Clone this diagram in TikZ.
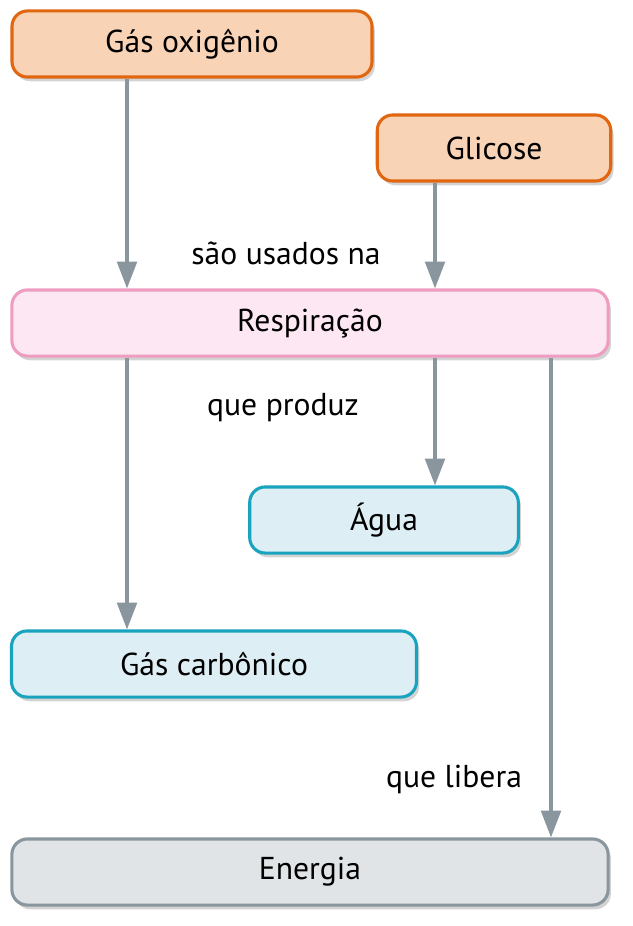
\documentclass[tikz,border=0pt]{standalone}
\usepackage{fontspec}
\setmainfont{PT Sans}
\usepackage{xcolor}
\usetikzlibrary{arrows.meta,shadows}
\definecolor{orangeline}{HTML}{E0660F}
\definecolor{orangefill}{HTML}{F8D3B6}
\definecolor{pinkline}{HTML}{EE9DC1}
\definecolor{pinkfill}{HTML}{FCE7F2}
\definecolor{blueline}{HTML}{1AA3BF}
\definecolor{bluefill}{HTML}{DDEEF4}
\definecolor{grayline}{HTML}{8A969D}
\definecolor{grayfill}{HTML}{E0E4E7}
\tikzset{cbox/.style 2 args={draw=#1,fill=#2,line width=2.2pt,rounded corners=11pt,
    drop shadow={shadow xshift=2pt,shadow yshift=-3pt,opacity=0.35},
    minimum height=47pt,inner sep=0pt,font=\fontsize{22.5}{26}\selectfont},
  carrow/.style={draw=grayline,line width=2.2pt,-{Triangle[length=19pt,width=14pt]}},
  clabel/.style={font=\fontsize{22.5}{26}\selectfont}
}
\begin{document}
\begin{tikzpicture}[x=0.025cm,y=-0.025cm]
  \useasboundingbox (0,0) rectangle (632,926);
  \begin{scope}[every node/.style={}]
    \node[cbox={orangeline}{orangefill},minimum width=256pt] (OX) at (192,44) {Gás oxigênio};
    \node[cbox={orangeline}{orangefill},minimum width=166pt] (GL) at (494,148) {Glicose};
    \node[cbox={pinkline}{pinkfill},minimum width=424pt] (RE) at (310,323) {Respiração};
    \node[cbox={blueline}{bluefill},minimum width=191pt] (AG) at (384,520) {Água};
    \node[cbox={blueline}{bluefill},minimum width=288pt] (GC) at (214,664) {Gás carbônico};
    \node[cbox={grayline}{grayfill},minimum width=424pt] (EN) at (310,872) {Energia};
  \end{scope}
  \node[clabel] (L1) at (286,253) {são usados na};
  \node[clabel] (L2) at (283,408) {que produz};
  \node[clabel] (L3) at (454,779) {que libera};
  % arrows
  \path[carrow] (OX.south -| 127,0) -- (RE.north -| 127,0);
  \path[carrow] (GL.south -| 435,0) -- (RE.north -| 435,0);
  \path[carrow] (RE.south -| 127,0) -- (GC.north -| 127,0);
  \path[carrow] (RE.south -| 435,0) -- (AG.north -| 435,0);
  \path[carrow] (RE.south -| 551,0) -- (EN.north -| 551,0);
\end{tikzpicture}
\end{document}
